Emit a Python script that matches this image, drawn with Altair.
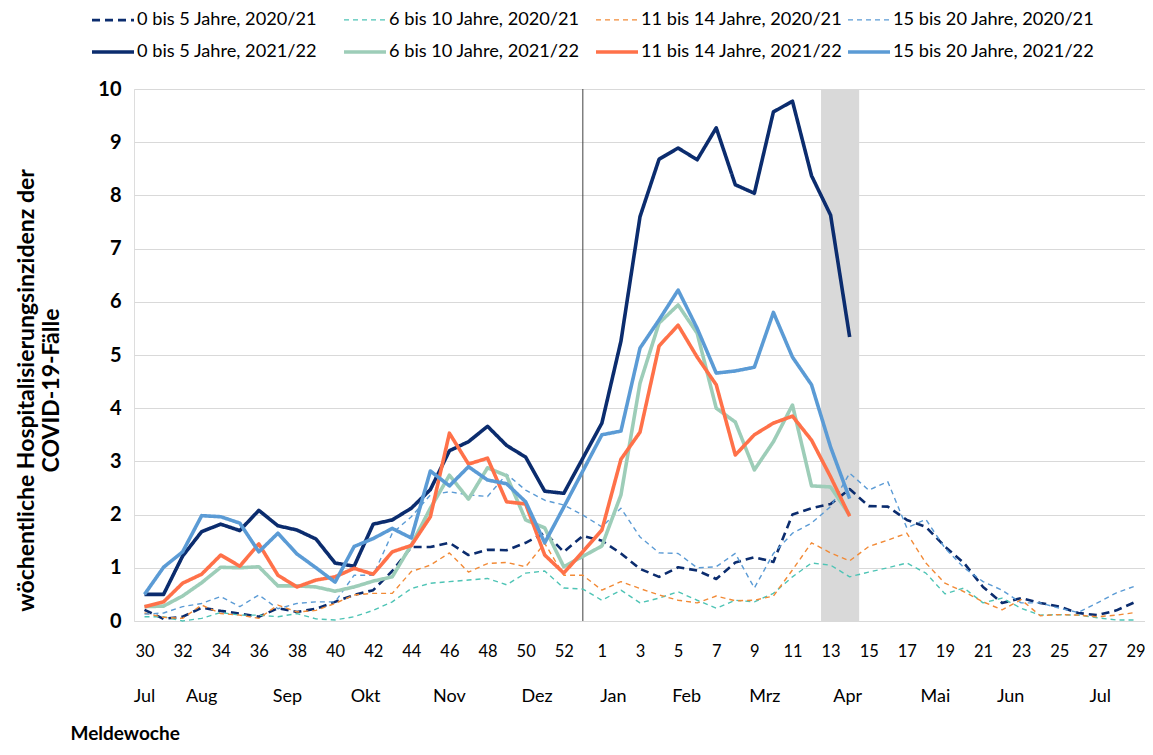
import altair as alt
import pandas as pd

# x categories: Meldewochen (2020/21 has a week 53)
week_labels = [str(w) for w in range(30, 54)] + [str(w) for w in range(1, 30)]

series_names = [
    "0 bis 5 Jahre, 2020/21", "6 bis 10 Jahre, 2020/21",
    "11 bis 14 Jahre, 2020/21", "15 bis 20 Jahre, 2020/21",
    "0 bis 5 Jahre, 2021/22", "6 bis 10 Jahre, 2021/22",
    "11 bis 14 Jahre, 2021/22", "15 bis 20 Jahre, 2021/22",
]

# 2020/21 season (weeks 30..53, 1..29)
s0_5_2020 = [0.21, 0.04, 0.08, 0.25, 0.19, 0.14, 0.08, 0.24, 0.17, 0.23, 0.36, 0.49,
             0.58, 0.94, 1.39, 1.39, 1.47, 1.24, 1.34, 1.33, 1.47, 1.66, 1.30, 1.60,
             1.51, 1.27, 0.98, 0.83, 1.01, 0.95, 0.79, 1.10, 1.20, 1.11, 2.00, 2.12,
             2.20, 2.48, 2.16, 2.15, 1.90, 1.77, 1.40, 1.09, 0.64, 0.34, 0.43, 0.34,
             0.27, 0.15, 0.11, 0.20, 0.36]
s6_10_2020 = [0.08, 0.08, 0.00, 0.05, 0.16, 0.11, 0.11, 0.08, 0.14, 0.04, 0.02, 0.08,
              0.20, 0.36, 0.61, 0.71, 0.74, 0.77, 0.80, 0.68, 0.90, 0.94, 0.62, 0.60,
              0.39, 0.58, 0.34, 0.43, 0.55, 0.39, 0.24, 0.39, 0.36, 0.52, 0.83, 1.09,
              1.05, 0.83, 0.92, 1.00, 1.09, 0.90, 0.51, 0.62, 0.34, 0.43, 0.24, 0.11,
              0.12, 0.11, 0.06, 0.02, 0.02]
s11_14_2020 = [0.15, 0.07, 0.05, 0.30, 0.14, 0.11, 0.05, 0.30, 0.17, 0.20, 0.33, 0.49,
               0.52, 0.52, 0.93, 1.05, 1.28, 0.92, 1.08, 1.10, 1.02, 1.46, 0.86, 0.86,
               0.58, 0.74, 0.61, 0.49, 0.39, 0.34, 0.47, 0.38, 0.39, 0.47, 0.96, 1.47,
               1.28, 1.13, 1.40, 1.52, 1.65, 1.09, 0.71, 0.55, 0.36, 0.21, 0.40, 0.10,
               0.12, 0.11, 0.08, 0.11, 0.16]
s15_20_2020 = [0.13, 0.15, 0.27, 0.33, 0.46, 0.27, 0.49, 0.23, 0.33, 0.36, 0.36, 0.86,
               0.86, 1.65, 1.96, 2.37, 2.43, 2.37, 2.34, 2.76, 2.46, 2.27, 2.18, 1.99,
               1.77, 2.12, 1.58, 1.28, 1.27, 1.00, 1.02, 1.27, 0.62, 1.27, 1.65, 1.84,
               2.15, 2.78, 2.46, 2.62, 1.75, 1.91, 1.37, 1.00, 0.74, 0.58, 0.34, 0.34,
               0.24, 0.16, 0.34, 0.53, 0.66]

# 2021/22 season (weeks 30..52, no week 53, 1..14)
s0_5_2021 = [0.50, 0.50, 1.22, 1.68, 1.82, 1.70, 2.08, 1.79, 1.71, 1.54, 1.09, 1.03,
             1.82, 1.90, 2.12, 2.47, 3.20, 3.37, 3.66, 3.30, 3.08, 2.44, 2.40, None,
             3.72, 5.26, 7.60, 8.68, 8.89, 8.67, 9.27, 8.20, 8.04, 9.57, 9.77, 8.37,
             7.63, 5.34]
s6_10_2021 = [0.27, 0.28, 0.47, 0.72, 1.01, 1.00, 1.02, 0.66, 0.66, 0.64, 0.56, 0.64,
              0.75, 0.83, 1.43, 2.12, 2.74, 2.29, 2.88, 2.73, 1.90, 1.75, 1.02, None,
              1.41, 2.37, 4.47, 5.60, 5.94, 5.41, 4.00, 3.74, 2.84, 3.37, 4.06, 2.54,
              2.52, 1.99]
s11_14_2021 = [0.27, 0.36, 0.71, 0.88, 1.24, 1.03, 1.45, 0.86, 0.64, 0.77, 0.83, 0.99,
               0.88, 1.30, 1.42, 1.96, 3.53, 2.95, 3.06, 2.24, 2.20, 1.24, 0.90, None,
               1.71, 3.04, 3.55, 5.17, 5.56, 4.96, 4.44, 3.12, 3.50, 3.72, 3.85, 3.40,
               2.71, 1.97]
s15_20_2021 = [0.50, 1.01, 1.30, 1.98, 1.96, 1.84, 1.30, 1.65, 1.26, 1.00, 0.73, 1.40,
               1.55, 1.74, 1.56, 2.82, 2.54, 2.90, 2.65, 2.58, 2.24, 1.47, 2.14, None,
               3.50, 3.57, 5.13, 5.66, 6.22, 5.50, 4.66, 4.70, 4.77, 5.80, 4.96, 4.44,
               3.27, 2.30]

all_series = [s0_5_2020, s6_10_2020, s11_14_2020, s15_20_2020,
              s0_5_2021, s6_10_2021, s11_14_2021, s15_20_2021]

colors = ["#0B2C6E", "#4EC4B5", "#F28A36", "#5B9BD5",
          "#0B2C6E", "#9DCDB8", "#FF7149", "#5B9BD5"]
dashes = [[8, 5], [5, 4], [5, 4], [5, 4], [1, 0], [1, 0], [1, 0], [1, 0]]
widths = [2.6, 1.4, 1.4, 1.4, 3.6, 3.6, 3.6, 3.6]

# month labels (position in week units) and highlighted weeks
month_labels = ["Jul", "Aug", "Sep", "Okt", "Nov", "Dez", "Jan", "Feb", "Mrz",
                "Apr", "Mai", "Jun", "Jul"]
month_pos = [0.0, 3.0, 7.5, 11.6, 16.0, 20.6, 24.6, 28.45, 32.55, 36.9, 41.5,
             45.45, 50.15]
band_weeks = ["13", "14"]
marker_week = "53"

rows = []
for name, vals in zip(series_names, all_series):
    for i, v in enumerate(vals):
        if v is not None:
            rows.append({"idx": i, "value": v, "series": name})
df = pd.DataFrame(rows)

# legend fills column by column: interleave seasons so rows are seasons
legend_order = [series_names[k + s] for k in range(4) for s in (0, 4)]
legend_colors = [colors[series_names.index(n)] for n in legend_order]
legend_dashes = [dashes[series_names.index(n)] for n in legend_order]
legend_widths = [widths[series_names.index(n)] for n in legend_order]

week_index_after = {w: i for i, w in enumerate(week_labels[24:], start=24)}
band_df = pd.DataFrame({"x0": [week_index_after[band_weeks[0]] - 0.5],
                        "x1": [week_index_after[band_weeks[1]] + 0.5]})
vline_df = pd.DataFrame({"idx": [week_labels.index(marker_week)]})
month_df = pd.DataFrame({"idx": month_pos, "label": month_labels})

W, H = 1011, 532
FONT = "Lato"

label_expr = "[" + ",".join("'" + w + "'" for w in week_labels) + "][datum.value]"
xscale = alt.Scale(domain=[-0.551, 52.498], nice=False, zero=False)
x_axis = alt.Axis(values=list(range(0, 53, 2)), labelExpr=label_expr,
                  grid=False, ticks=False, domain=False, labelFont=FONT,
                  labelFontSize=16.5, labelColor="black", labelPadding=22,
                  labelFlush=False, labelOverlap=False,
                  title="Meldewoche", titleFont=FONT, titleFontSize=19,
                  titleFontWeight="bold", titleColor="black",
                  titleX=-64, titleY=112, titleAlign="left",
                  titleBaseline="middle", titleAnchor="start")

legend = alt.Legend(
    orient="none", legendX=-44, legendY=-92, columns=4, title=None,
    symbolType="stroke", symbolSize=1764, labelFont=FONT, labelFontSize=18.2,
    labelColor="black", columnPadding=-3, rowPadding=0, gridAlign="all",
    labelOffset=1, labelLimit=400,
)

band = alt.Chart(band_df).mark_rect(color="#D9D9D9").encode(
    x=alt.X("x0:Q", scale=xscale, axis=x_axis),
    x2="x1:Q",
    y=alt.value(0),
    y2=alt.value(H),
)

vline = alt.Chart(vline_df).mark_rule(color="#404040", strokeWidth=1).encode(
    x=alt.X("idx:Q", scale=xscale, axis=x_axis),
)

lines = alt.Chart(df).mark_line(strokeCap="butt", strokeJoin="round").encode(
    x=alt.X("idx:Q", scale=xscale, axis=x_axis),
    y=alt.Y("value:Q", scale=alt.Scale(domain=[0, 10], nice=False),
            axis=alt.Axis(values=list(range(0, 11)), grid=True, gridColor="#D9D9D9",
                          gridWidth=1, ticks=False, domain=False, labelFont=FONT,
                          labelFontSize=20, labelFontWeight="bold", labelColor="black",
                          labelPadding=13,
                          title=["wöchentliche Hospitalisierungsinzidenz der",
                                 "COVID-19-Fälle"],
                          titleFont=FONT, titleFontSize=23, titleFontWeight="bold",
                          titleColor="black", titleX=-96, titleY=301,
                          titleBaseline="bottom", titleLineHeight=25)),
    color=alt.Color("series:N", scale=alt.Scale(domain=legend_order, range=legend_colors),
                    legend=legend),
    strokeDash=alt.StrokeDash("series:N",
                              scale=alt.Scale(domain=legend_order, range=legend_dashes),
                              legend=legend),
    strokeWidth=alt.StrokeWidth("series:N",
                                scale=alt.Scale(type="ordinal", domain=legend_order,
                                                range=legend_widths),
                                legend=legend),
)

months = alt.Chart(month_df).mark_text(font=FONT, fontSize=18, color="black",
                                       baseline="middle", align="center").encode(
    x=alt.X("idx:Q", scale=xscale, axis=x_axis),
    y=alt.value(H + 76),
    text="label:N",
)

chart = alt.layer(band, vline, lines, months).properties(
    width=W, height=H,
    autosize=alt.AutoSizeParams(type="none"),
    padding={"left": 126, "top": 81, "right": 0, "bottom": 125},
).configure_view(stroke=None).configure(background="white")

chart.save("out.html", embed_options={"renderer": "svg", "actions": False})
